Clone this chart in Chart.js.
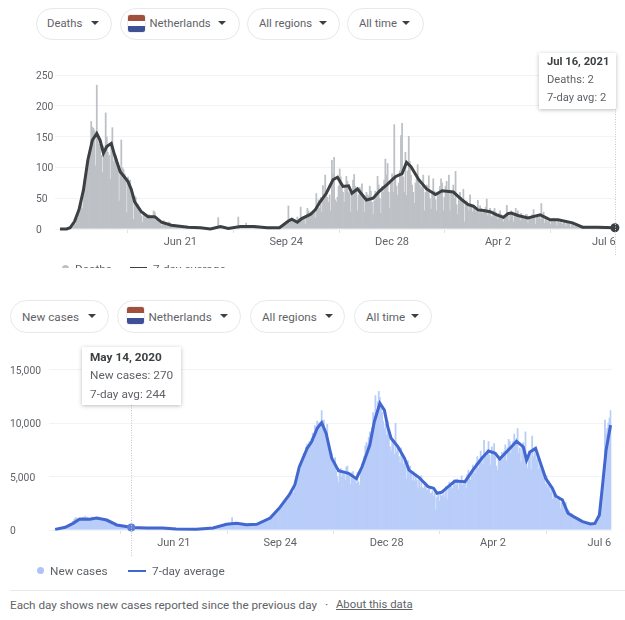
<!DOCTYPE html>
<html>
<head>
<meta charset="utf-8">
<script src="https://cdn.jsdelivr.net/npm/chart.js@4/dist/chart.umd.min.js"></script>
<style>
html,body{margin:0;padding:0;background:#fff;width:625px;height:620px;overflow:hidden;font-family:Roboto,Arial,sans-serif;color:#5f6368}
.abs{position:absolute;white-space:nowrap}
.pill{position:absolute;box-sizing:border-box;border:1px solid #e6e8ea;border-radius:17px;background:#fff}
.t{position:absolute;white-space:nowrap;font-size:11.3px;line-height:16px;color:#5f6368}
.t2{font-size:11.7px}
.caret{position:absolute;width:0;height:0;border-left:4.5px solid transparent;border-right:4.5px solid transparent;border-top:4.5px solid #3c4043}
.flag{position:absolute;width:17px;height:17px;border-radius:2px;overflow:hidden;background:linear-gradient(#a0503c 0 33%,#fff 33% 66%,#3f5196 66% 100%);box-shadow:0 0 0 .5px #ddd}
.tip{position:absolute;background:#fff;box-shadow:0 1px 4px rgba(60,64,67,.35);color:#5f6368;box-sizing:border-box;z-index:5}
.tip div{position:absolute;left:8px;line-height:16px;white-space:nowrap}
.tip b{color:#3c4043;font-weight:700}
.leg{font-size:11.8px;line-height:16px;color:#5f6368}
canvas{position:absolute;display:block}
</style>
</head>
<body>
<div class="pill" style="left:36px;top:8px;width:76px;height:32px"></div><div class="t" style="left:47px;top:16px">Deaths</div><div class="caret" style="left:91px;top:21px"></div>
<div class="pill" style="left:120px;top:8px;width:120px;height:32px"></div><div class="flag" style="left:128px;top:15px"></div><div class="t" style="left:149.5px;top:16px">Netherlands</div><div class="caret" style="left:218px;top:21px"></div>
<div class="pill" style="left:247px;top:8px;width:93px;height:32px"></div><div class="t" style="left:259px;top:16px">All regions</div><div class="caret" style="left:319px;top:21px"></div>
<div class="pill" style="left:347px;top:8px;width:77px;height:32px"></div><div class="t" style="left:359px;top:16px">All time</div><div class="caret" style="left:402px;top:21px"></div>

<div style="position:absolute;left:0;top:0;width:625px;height:268px;overflow:hidden">
<canvas id="deathsChart" style="left:36px;top:40px"></canvas>
<div class="abs leg" style="left:75px;top:261px">Deaths</div>
<div class="abs" style="left:62px;top:265px;width:7px;height:7px;border-radius:50%;background:#bdc1c6"></div>
<div class="abs" style="left:130px;top:266.5px;width:17px;height:3px;background:#3c4043"></div>
<div class="abs leg" style="left:153px;top:261px">7-day average</div>
</div>

<div class="tip" id="tipTop" style="left:539px;top:53px;width:77px;height:56px;font-size:11.2px"></div>

<div class="pill" style="left:10px;top:300px;width:99px;height:33px"></div><div class="t t2" style="left:22px;top:309px">New cases</div><div class="caret" style="left:87.5px;top:314px"></div>
<div class="pill" style="left:117px;top:300px;width:124px;height:33px"></div><div class="flag" style="left:127px;top:307px"></div><div class="t t2" style="left:148.5px;top:309px">Netherlands</div><div class="caret" style="left:219.5px;top:314px"></div>
<div class="pill" style="left:250px;top:300px;width:95px;height:33px"></div><div class="t t2" style="left:262px;top:309px">All regions</div><div class="caret" style="left:324.5px;top:314px"></div>
<div class="pill" style="left:354px;top:300px;width:78px;height:33px"></div><div class="t t2" style="left:366px;top:309px">All time</div><div class="caret" style="left:410.5px;top:314px"></div>

<canvas id="casesChart" style="left:10px;top:340px"></canvas>
<div class="tip" id="tipBottom" style="left:82px;top:347px;width:99px;height:58px;font-size:11.8px"></div>

<div class="abs" style="left:37px;top:567px;width:7px;height:7px;border-radius:50%;background:#aec4f7"></div>
<div class="abs leg" style="left:50px;top:563px">New cases</div>
<div class="abs" style="left:128px;top:569.5px;width:18px;height:2.5px;background:#4267cf"></div>
<div class="abs leg" style="left:152px;top:563px">7-day average</div>

<div class="abs" style="left:10px;top:590px;width:615px;height:1px;background:#e8eaed"></div>
<div class="abs" style="left:10px;top:597px;font-size:11.7px;line-height:16px;color:#5f6368">Each day shows new cases reported since the previous day</div>
<div class="abs" style="left:325px;top:597px;font-size:12px;line-height:16px;color:#5f6368">·</div>
<div class="abs" style="left:336px;top:597px;font-size:11.3px;line-height:16px;color:#5f6368;text-decoration:underline">About this data</div>

<script>
// Top chart: day 0 = Mar 5, 2020
const deathTickDays = [108,203,298,393,488];
const caseTickDays  = [106,201,296,391,486];
const tickLabels = ["Jun 21","Sep 24","Dec 28","Apr 2","Jul 6"];
const deathYTicks = [0,50,100,150,200,250];
const caseYTicks = [0,5000,10000,15000];

const deathBars = [
0,0,1,0,1,0,1,1,1,1,
3,4,5,10,8,15,18,24,30,43,
34,63,80,78,93,112,112,132,175,166,
164,160,103,234,147,138,134,120,92,135,
128,189,150,125,120,81,140,165,110,120,
120,115,100,46,95,145,100,97,90,82,
27,85,75,80,55,52,16,54,52,40,
40,34,30,22,11,28,25,18,22,20,
24,20,22,18,30,28,14,20,12,10,
9,6,10,14,8,8,5,6,12,8,
6,5,7,4,3,4,5,2,3,4,
3,2,1,4,3,3,1,2,2,1,
3,2,2,1,1,0,2,1,1,0,
1,0,0,1,1,0,0,1,2,1,
4,3,19,5,3,4,3,2,1,0,
1,0,0,1,2,0,1,1,1,1,
20,3,4,3,6,5,3,10,5,4,
3,4,5,3,4,6,3,2,2,1,
2,3,2,1,1,2,1,1,2,0,
1,1,2,1,1,2,1,1,1,2,
3,5,8,12,8,38,10,14,18,16,
12,15,9,20,14,18,36,14,18,20,
8,20,34,30,24,28,22,25,30,18,
58,40,48,34,52,28,71,50,88,60,
52,44,56,30,112,90,117,48,44,52,
70,98,85,74,60,44,72,86,78,60,
58,28,60,80,89,70,62,30,56,68,
65,74,52,28,50,60,56,54,70,62,
44,24,46,62,58,86,72,50,26,70,
60,80,114,88,107,60,34,80,90,60,
170,85,70,55,75,95,152,172,85,60,
125,55,95,151,110,88,72,60,42,75,
82,105,80,72,66,70,88,30,60,72,
70,87,50,33,60,82,62,48,30,60,
58,70,82,75,30,52,70,78,62,88,
30,62,58,72,50,94,40,24,50,60,
52,48,65,12,40,46,42,30,56,38,
28,38,36,30,28,47,26,38,34,26,
30,32,36,49,22,28,34,20,22,30,
34,28,22,16,26,30,24,18,12,18,
20,39,26,14,24,30,28,12,22,34,
25,30,22,14,26,22,16,20,24,24,
10,18,20,16,24,32,18,8,20,24,
22,16,42,20,28,10,18,14,12,16,
8,14,12,18,14,12,6,14,10,12,
10,8,11,13,5,10,10,9,3,9,
8,10,4,6,6,3,4,4,3,2,
3,2,4,3,3,1,2,4,2,3,
3,1,4,2,3,3,5,2,1,4,
2,3,1,2,2,0,3,2,2];

const deathAvgDays = [0,6,9,13,17,21,25,29,33,36,39,42,46,49,54,58,61,64,67,70,73,79,85,91,100,115,126,135,144,151,162,174,186,197,205,208,213,217,225,229,233,239,245,249,254,259,262,267,275,281,287,294,301,307,311,315,322,329,337,343,353,361,366,371,375,380,386,392,398,402,405,411,420,431,440,447,460,469,482,498];
const deathAvgValues = [0,0,2,12,31,63,112,144,155,144,123,134,139,120,93,84,77,64,44,36,28,20,20,11,6,3,2,0,4,1,4,4,2,2,13,16,11,17,24,31,43,58,80,84,69,70,58,65,47,50,62,73,85,90,108,101,80,65,56,62,60,47,40,37,31,30,28,23,19,25,26,22,18,23,15,15,10,3,3,2];

// Bottom chart: day 0 = Mar 7, 2020
const caseBars = [
10,80,60,90,110,150,190,155,176,278,
346,409,534,545,637,573,852,1019,1172,1159,
1104,884,845,1083,1026,1224,1173,1335,969,1213,
1062,886,1061,1235,1140,1066,964,1150,1231,1145,
1061,1066,887,867,945,1031,812,807,735,622,
671,475,455,445,515,450,386,375,340,319,
335,386,300,286,274,305,245,199,270,270,
235,180,130,187,214,180,205,175,190,165,
190,185,170,215,205,150,175,130,165,195,
205,185,210,195,240,160,185,170,140,160,
120,130,115,95,110,120,85,100,90,95,
70,85,60,95,70,75,100,55,80,60,
70,65,95,60,75,70,60,85,110,90,
100,85,130,120,135,105,170,210,180,150,
175,200,195,240,220,260,290,350,310,400,
470,430,530,600,560,590,650,620,1200,680,
640,660,620,600,580,550,510,540,480,500,
470,530,510,480,520,490,460,510,540,560,
530,600,690,620,710,780,850,800,960,1040,
1020,1140,1200,1300,1450,1390,1580,1700,1640,1800,
2020,1980,2250,2400,2300,2600,2800,2740,3000,3270,
3150,3400,3600,3500,4100,4000,4700,5300,5900,5700,
6300,6900,7200,7000,7800,8050,7900,8300,8100,8600,
9100,8900,9800,9600,10200,10050,9700,10100,11200,10000,
10300,9500,8800,9900,8000,7400,7100,7200,6600,6300,
6800,5500,5000,4500,5700,5800,5000,5300,5200,4700,
5900,6000,5300,5200,4300,5400,5500,5000,4800,4400,
5400,4500,4200,5600,6200,6100,6900,7900,8200,8000,
8700,9200,9100,9600,11000,10200,12600,11200,12000,13000,
12400,11400,11000,10200,9500,9900,8900,10200,9000,7800,
7400,8600,8300,7100,10000,7300,7600,6900,6300,7700,
7100,6200,6800,6000,4800,6500,5700,6000,5400,4700,
5500,4600,5300,4700,3900,4900,4000,5100,4000,3900,
4500,4300,3700,3800,3900,3400,3500,3700,3200,3500,
1900,3100,3300,2700,3400,3200,3300,3700,3100,4100,
2900,3900,4500,4300,4100,3900,4700,4600,4200,4800,
3800,4600,4400,5100,4200,4600,4500,3900,5200,5600,
5200,4700,5500,6100,5900,5300,6300,6900,5800,6600,
7400,6800,6200,8400,7100,6900,7500,8300,7000,6100,
7800,7500,8100,6900,6000,5600,7000,6400,6900,7300,
6600,7400,8000,6500,7700,8500,8300,7200,7800,8300,
9000,8200,8600,9500,7200,7700,6400,8000,8200,7600,
9200,6100,5800,7400,7300,5700,8800,6900,7500,7100,
6600,6700,5700,6400,5600,5900,5000,4900,4300,5100,
4000,4400,3500,4100,2900,3600,3200,3300,2800,2900,
3100,2000,2600,3000,2700,2100,2600,1700,1900,1800,
1500,1600,1300,1200,1100,1050,1000,900,880,840,
780,700,650,620,600,580,550,560,520,480,
500,520,600,650,700,1000,1500,2400,3200,4300,
6000,10300,9000,9500,10000,10500,11200];

const caseAvgDays = [0,9,16,22,31,37,46,55,69,82,96,108,126,141,153,162,171,180,192,200,209,214,218,225,229,234,238,242,247,253,262,269,274,281,285,290,294,297,300,306,312,316,325,333,338,341,345,351,357,366,373,381,387,393,397,406,412,418,421,424,429,433,438,444,447,453,458,463,471,478,482,486,489,492,496];
const caseAvgValues = [60,250,620,1030,1000,1120,930,470,244,190,190,95,70,190,530,620,500,530,1120,2025,3270,4200,5900,7630,8250,9500,10030,9030,6700,5540,5300,4800,5900,7940,10120,11840,11200,9650,8570,7790,6700,5600,4900,4050,3900,3430,3520,4050,4580,4520,5600,6700,7380,7160,6630,7620,8300,7780,6530,7300,7630,6390,4830,3900,3180,2800,1560,1250,780,560,620,1400,4360,7480,9800];

const deathTip = {title:"Jul 16, 2021", lines:["Deaths: 2","7-day avg: 2"], day:498, avg:2};
const caseTip  = {title:"May 14, 2020", lines:["New cases: 270","7-day avg: 244"], day:68, avg:244};

function fillTip(id, tip, ys){
  const el = document.getElementById(id);
  el.innerHTML = '<div style="top:'+ys[0]+'px"><b>'+tip.title+'</b></div><div style="top:'+ys[1]+'px">'+tip.lines[0]+'</div><div style="top:'+ys[2]+'px">'+tip.lines[1]+'</div>';
}
fillTip('tipTop', deathTip, [1,19,37]);
fillTip('tipBottom', caseTip, [2,20,39]);

function guide(day, y0, y1){
  return {id:'guide', afterDatasetsDraw(chart){
    const x = chart.scales.x.getPixelForValue(day), c = chart.ctx;
    c.save(); c.strokeStyle='#c4c7ca'; c.lineWidth=1; c.setLineDash([1,1.5]);
    c.beginPath(); c.moveTo(Math.round(x)+.5,y0); c.lineTo(Math.round(x)+.5,y1); c.stroke(); c.restore();
  }};
}

function makeChart(o){
  const cv = document.getElementById(o.id);
  cv.width = o.w; cv.height = o.h;
  return new Chart(cv, {
    type:'bar',
    data:{datasets:[
      {type:'bar', label:o.barLabel, data:o.bars.map((v,i)=>({x:i,y:v})), backgroundColor:o.barColor, barPercentage:1.6, categoryPercentage:1, borderWidth:0, order:3},
      {type:'line', label:'7-day average', data:o.avgDays.map((d,i)=>({x:d,y:o.avgVals[i]})), borderColor:o.lineColor, borderWidth:o.lineW, pointRadius:0, tension:0, fill:false, clip:false, order:2},
      {type:'line', label:'Selected day', data:[{x:o.tip.day,y:o.tip.avg}], pointRadius:o.dotR, pointBackgroundColor:o.dotColor, pointBorderWidth:0, showLine:false, clip:false, order:1}
    ]},
    options:{
      responsive:false, animation:false, devicePixelRatio:1,
      layout:{padding:o.pad},
      plugins:{legend:{display:false}, tooltip:{enabled:false}},
      scales:{
        x:{type:'linear', min:o.xMin, max:o.xMax, offset:false,
          afterBuildTicks(a){a.ticks=o.tickDays.map(v=>({value:v}));},
          afterFit(a){a.height=25;},
          grid:{drawOnChartArea:false, drawTicks:true, tickLength:4, color:'#e0e2e5'},
          border:{display:false},
          ticks:{autoSkip:false, maxRotation:0, padding:3, color:'#5f6368', font:{family:'Roboto',size:11},
            callback:v=>tickLabels[o.tickDays.indexOf(v)]}
        },
        y:{min:0, max:o.yMax,
          afterBuildTicks(a){a.ticks=o.yTicks.map(v=>({value:v}));},
          afterFit(a){a.width=o.yW;},
          grid:{color:'#f1f3f4', drawTicks:false},
          border:{display:false},
          ticks:{crossAlign:'far', padding:0, labelOffset:1.5, color:'#5f6368', font:{family:'Roboto',size:10.3},
            callback:v=>v.toLocaleString('en-US')}
        }
      }
    },
    plugins:[guide(o.tip.day,o.guideY[0],o.guideY[1])]
  });
}

makeChart({id:'deathsChart', w:589, h:222, pad:{top:35,right:9,bottom:8,left:0}, yW:19, xMin:-4.5, xMax:499, yMax:250,
  yTicks:deathYTicks, tickDays:deathTickDays, bars:deathBars, avgDays:deathAvgDays, avgVals:deathAvgValues, barLabel:'Deaths',
  barColor:'#bdc1c6', lineColor:'#3c4043', lineW:3, dotR:4.5, dotColor:'#3c4043', tip:deathTip, guideY:[69,215]});
makeChart({id:'casesChart', w:615, h:225, pad:{top:29.5,right:13.3,bottom:10,left:0}, yW:39, xMin:-5.5, xMax:497, yMax:15000,
  yTicks:caseYTicks, tickDays:caseTickDays, bars:caseBars, avgDays:caseAvgDays, avgVals:caseAvgValues, barLabel:'New cases',
  barColor:'#b9cdf9', lineColor:'#4267cf', lineW:3, dotR:4, dotColor:'#5f80d8', tip:caseTip, guideY:[65,216]});
</script>
</body>
</html>
